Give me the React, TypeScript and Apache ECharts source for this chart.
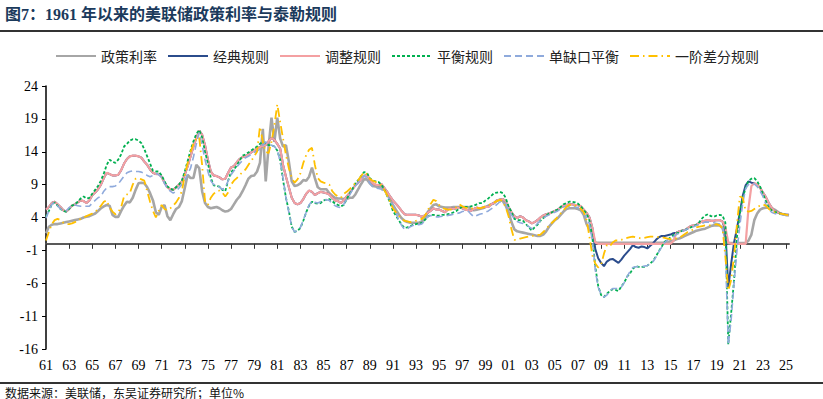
import React, { useEffect, useRef } from 'react';
import * as echarts from 'echarts';

// Quarterly categories, 1961Q1 .. 2025Q2 (258 points)
const categories: string[] = Array.from({ length: 258 }, (_, i) => `${1961 + Math.floor(i / 4)}Q${(i % 4) + 1}`);
const tickLabels = ['61','63','65','67','69','71','73','75','77','79','81','83','85','87','89','91','93','95','97','99','01','03','05','07','09','11','13','15','17','19','21','23','25'];
const yTickValues = [-16, -11, -6, -1, 4, 9, 14, 19, 24];

const policyRate = [
  1.6,2.6,2.9,3.0,3.0,3.1,3.2,3.3, 3.4,3.5,3.6,3.7,3.8,4.0,4.1,4.2,
  4.4,4.6,5.0,5.4,5.7,5.9,5.8,4.4, 4.1,4.1,5.0,5.8,6.4,6.3,7.0,8.2,
  9.2,9.3,9.2,8.6,7.7,6.6,4.8,4.4, 5.6,5.9,4.2,3.6,4.5,5.3,5.6,6.5,
  8.5,10.5,10.0,10.0,12.0,11.5,8.0,6.2, 5.6,5.4,5.5,5.6,5.4,5.1,4.9,5.0,
  5.3,6.0,6.7,7.2,8.0,8.9,9.9,10.3, 10.4,11.0,12.3,17.5,9.5,14.8,19.2,15.5,
  19.2,16.0,14.8,15.0,12.5,9.5,8.8,8.9, 9.2,9.7,9.6,10.2,11.6,10.0,8.6,8.3,
  8.3,8.3,7.7,7.3,7.0,6.9,6.9,6.8, 6.8,7.0,7.0,7.5,8.3,9.1,9.8,9.8,
  9.2,8.8,8.7,8.6,8.6,8.2,7.8,6.8, 5.9,5.2,4.5,3.9,3.5,3.3,3.2,3.2,
  3.2,3.2,3.4,3.8,4.8,5.4,5.9,6.0, 5.7,5.6,5.5,5.5,5.5,5.6,5.6,5.6,
  5.6,5.6,5.6,5.3,5.1,5.2,5.3,5.4, 5.6,5.8,6.0,6.2,6.6,6.7,6.5,5.8,
  4.8,3.3,2.2,1.9,1.8,1.7,1.6,1.5, 1.4,1.3,1.2,1.2,1.4,1.9,2.6,3.1,
  3.6,3.9,4.4,4.9,5.3,5.4,5.4,5.4, 5.3,5.1,4.4,3.0,2.2,1.5,0.2,0.15,
  0.15,0.15,0.15,0.15,0.15,0.15,0.15,0.15, 0.15,0.15,0.15,0.15,0.15,0.15,0.15,0.15,
  0.15,0.15,0.15,0.15,0.15,0.15,0.15,0.2, 0.4,0.5,0.7,0.8,1.0,1.2,1.4,1.6,
  1.8,2.0,2.1,2.2,2.3,2.5,2.7,2.8, 2.8,2.8,2.4,0.8,0.1,0.1,0.1,0.1,
  0.1,0.1,0.1,0.5,1.4,3.6,4.6,5.2, 5.4,5.5,5.5,5.4,5.2,4.9,4.6,4.5,
  4.4,4.3,
];

const adjustedRule = [
  5.2,5.6,6.2,6.4,6.0,5.6,5.1,4.9, 5.3,5.8,6.0,6.3,6.6,6.5,6.2,6.6,
  7.4,7.8,8.3,9.0,10.0,10.8,10.6,10.4, 10.4,10.5,11.2,12.2,12.9,13.3,13.4,13.4,
  13.3,13.1,12.5,12.0,11.3,10.8,10.6,10.6, 10.2,9.3,8.6,8.3,8.2,8.6,9.0,9.5,
  10.5,11.8,13.3,14.8,16.1,17.2,16.6,15.0, 12.8,11.0,10.4,10.3,10.1,9.8,9.9,10.8,
  11.6,11.8,12.4,12.9,13.2,13.3,13.6,13.9, 14.2,14.5,14.7,14.9,15.0,15.6,16.1,15.8,
  15.2,14.5,12.0,10.2,8.6,7.0,6.2,6.0, 6.2,6.8,7.6,8.1,7.9,7.4,7.7,7.9,
  7.8,7.7,7.5,7.0,6.6,6.5,6.2,6.6, 7.2,7.7,8.3,8.9,9.3,9.8,10.3,10.5,
  9.8,9.2,9.0,8.9,9.1,8.5,7.9,7.2, 6.6,6.1,5.6,5.0,4.5,4.4,4.4,4.4,
  4.4,4.3,4.1,4.3,4.7,5.0,5.4,5.2, 5.2,5.0,4.8,5.2,5.4,5.3,5.4,5.5,
  5.4,5.2,5.1,5.0,5.3,5.5,5.4,5.5, 5.6,5.6,6.0,6.2,6.6,6.7,6.8,6.5,
  5.6,4.8,4.2,3.9,4.2,4.0,3.6,3.4, 3.1,3.3,3.6,4.0,4.3,4.5,4.6,4.8,
  5.0,5.2,5.5,5.8,5.9,6.0,6.0,5.9, 5.9,5.7,5.2,4.7,4.0,2.4,0.2,0,
  0,0,0,0,0,0,0,0, 0,0,0,0,0,0,0,0,
  0,0,0,0,0,0,0,0, 0,0.4,1.6,1.9,2.0,2.1,2.4,2.7,
  2.8,2.9,3.2,3.4,3.5,3.6,3.5,3.5, 3.6,3.6,3.4,2.5,0.2,0,0,0,
  0,0,0,5.5,8.8,9.2,9.0,8.5, 7.8,7.1,6.2,5.5,5.0,4.8,4.6,4.5,
  4.4,4.4,
];

const classicRule = [
  5.2,5.6,6.2,6.4,6.0,5.6,5.1,4.9, 5.3,5.8,6.0,6.3,6.6,6.5,6.2,6.6,
  7.4,7.8,8.3,9.0,10.0,10.8,10.6,10.4, 10.4,10.5,11.2,12.2,12.9,13.3,13.4,13.4,
  13.3,13.1,12.5,12.0,11.3,10.8,10.6,10.6, 10.2,9.3,8.6,8.3,8.2,8.6,9.0,9.5,
  10.5,11.8,13.3,14.8,16.1,17.2,16.6,15.0, 12.8,11.0,10.4,10.3,10.1,9.8,9.9,10.8,
  11.6,11.8,12.4,12.9,13.2,13.3,13.6,13.9, 14.2,14.5,14.7,14.9,15.0,15.6,16.1,15.8,
  15.2,14.5,12.0,10.2,8.6,7.0,6.2,6.0, 6.2,6.8,7.6,8.1,7.9,7.4,7.7,7.9,
  7.8,7.7,7.5,7.0,6.6,6.5,6.2,6.6, 7.2,7.7,8.3,8.9,9.3,9.8,10.3,10.5,
  9.8,9.2,9.0,8.9,9.1,8.5,7.9,7.2, 6.6,6.1,5.6,5.0,4.5,4.4,4.4,4.4,
  4.4,4.3,4.1,4.3,4.7,5.0,5.4,5.2, 5.2,5.0,4.8,5.2,5.4,5.3,5.4,5.5,
  5.4,5.2,5.1,5.0,5.3,5.5,5.4,5.5, 5.6,5.6,6.0,6.2,6.6,6.7,6.8,6.5,
  5.6,4.8,4.2,3.9,4.2,4.0,3.6,3.4, 3.1,3.3,3.6,4.0,4.3,4.5,4.6,4.8,
  5.0,5.2,5.5,5.8,5.9,6.0,6.0,5.9, 5.9,5.7,5.2,4.7,4.0,2.4,-0.8,-2.2,
  -2.9,-3.4,-2.7,-2.4,-2.3,-2.6,-2.9,-2.4, -1.8,-1.3,-0.8,-0.2,-0.5,-0.6,-0.4,-0.5,
  -0.7,-0.3,0.1,0.6,1.0,1.2,1.2,1.3, 1.4,1.6,1.7,1.9,2.0,2.1,2.4,2.7,
  2.8,2.9,3.2,3.4,3.5,3.6,3.5,3.5, 3.6,3.6,3.4,2.0,-6.7,-3.0,0.2,2.3,
  4.8,7.3,8.9,9.5,9.3,9.2,9.0,8.5, 7.8,7.1,6.2,5.5,5.0,4.8,4.6,4.5,
  4.4,4.4,
];

const balancedRule = [
  4.1,5.0,6.0,6.3,5.8,5.3,5.0,4.9, 5.3,5.8,6.0,6.4,6.9,7.2,6.9,7.0,
  7.6,8.2,8.8,9.6,10.7,12.0,12.8,12.5, 12.3,12.8,13.6,14.8,15.2,15.7,15.9,15.9,
  15.7,15.3,14.4,13.3,12.2,11.1,11.0,11.0, 10.4,9.5,8.7,8.4,8.2,8.6,9.0,9.6,
  11.0,12.6,14.2,15.6,16.7,17.3,16.2,14.0, 12.3,10.0,8.9,8.8,8.7,8.2,8.0,9.6,
  10.9,11.3,11.9,12.7,13.4,13.6,13.9,14.2, 14.5,14.8,15.2,15.5,15.2,15.0,15.0,14.8,
  14.2,12.8,9.7,7.0,5.0,2.6,1.8,2.0, 2.4,3.5,4.8,5.8,6.4,6.2,6.1,6.2,
  6.6,6.7,6.8,6.5,6.1,5.9,5.7,5.9, 6.8,7.6,8.3,9.2,9.7,10.3,10.9,10.8,
  10.0,9.6,9.5,9.4,9.0,8.3,7.3,6.3, 5.0,4.3,3.6,2.9,2.4,2.5,2.7,2.9,
  3.0,3.1,3.2,3.6,4.1,4.4,4.4,4.3, 4.3,4.4,4.4,4.5,4.6,4.8,5.0,5.4,
  5.6,5.6,5.6,5.7,5.8,6.0,6.2,6.2, 6.6,6.9,7.3,7.7,7.8,7.9,7.7,7.0,
  5.6,4.9,3.8,3.6,3.6,3.5,3.0,2.5, 2.0,2.5,2.9,3.5,3.9,4.3,4.6,4.8,
  5.0,5.2,5.6,6.0,6.2,6.4,6.4,6.3, 6.1,5.7,5.1,4.6,3.5,1.0,-3.5,-6.4,
  -7.8,-8.1,-7.6,-7.2,-6.9,-7.0,-7.2,-6.5, -5.9,-5.0,-4.5,-3.8,-3.4,-3.5,-3.5,-3.5,
  -3.3,-3.0,-2.6,-1.9,-1.1,-0.4,0.3,0.6, 1.0,1.3,1.6,1.7,2.0,2.1,2.3,2.5,
  2.7,2.9,3.3,3.9,4.3,4.5,4.2,4.1, 4.3,4.4,4.3,3.2,-15.3,-10.5,-5.5,1.0,
  4.5,7.0,8.5,9.6,9.9,10.0,9.5,8.7, 7.6,6.5,5.5,5.1,4.9,4.7,4.6,4.5,
  4.4,4.4,
];

const singleGapRule = [
  3.9,5.0,6.0,6.3,5.8,5.3,5.0,5.0, 5.5,5.8,5.9,5.8,5.7,5.7,5.7,5.7,
  6.2,6.6,7.0,7.2,8.0,8.5,8.7,8.7, 8.8,9.1,9.7,10.3,10.8,11.0,11.1,11.0,
  11.0,10.9,10.7,10.4,10.2,10.4,10.7,10.5, 10.1,9.2,8.4,8.0,7.7,8.0,8.5,9.0,
  9.6,10.6,11.5,13.2,15.2,16.9,15.0,12.8, 11.0,9.6,9.0,9.0,8.6,8.3,8.5,9.6,
  10.5,11.1,11.7,12.2,12.7,13.1,13.3,13.6, 13.9,14.1,14.4,15.0,15.5,15.2,15.0,14.8,
  14.3,12.5,10.0,7.0,4.8,2.6,1.8,2.0, 2.5,3.6,4.8,5.9,6.5,6.3,6.2,6.4,
  6.6,6.7,6.6,6.1,5.8,5.6,5.5,6.0, 6.8,7.4,8.2,8.8,9.3,9.8,10.4,10.0,
  9.2,8.7,8.5,8.4,8.3,7.8,7.4,6.5, 5.9,4.8,3.6,2.8,2.2,2.3,2.6,2.8,
  2.9,2.9,3.0,3.5,4.1,4.3,4.2,4.1, 4.1,4.2,4.2,4.3,4.4,4.5,4.6,4.7,
  4.9,5.0,5.0,4.5,4.1,4.3,4.5,4.6, 4.8,5.0,5.3,5.6,6.0,6.4,6.3,6.1,
  5.2,4.4,3.8,3.4,3.2,3.1,2.9,2.6, 2.3,2.6,3.1,3.5,3.9,4.2,4.4,4.6,
  4.8,5.0,5.3,5.6,5.7,5.7,5.7,5.6, 5.5,5.1,4.6,4.0,3.0,0.5,-4.0,-6.6,
  -7.7,-8.1,-7.8,-7.2,-6.8,-6.8,-6.8,-6.6, -5.9,-5.0,-4.2,-3.6,-3.5,-3.5,-3.5,-3.4,
  -3.3,-3.0,-2.7,-2.0,-1.2,-0.5,0.2,0.6, 0.9,1.1,1.4,1.6,1.9,2.1,2.3,2.5,
  2.6,2.8,2.9,3.1,3.3,3.3,3.3,3.2, 3.1,3.0,2.8,-1.0,-15.4,-11.5,-6.0,-1.0,
  2.8,6.2,8.4,9.0,9.2,9.1,8.7,8.0, 7.2,6.0,5.2,4.8,4.6,4.5,4.5,4.4,
  4.3,4.3,
];

const firstDiffRule = [
  0.5,1.8,3.0,3.6,3.8,3.6,3.2,3.0, 3.0,3.1,3.3,3.5,3.8,4.0,4.2,4.4,
  4.6,4.9,5.2,5.8,6.4,6.6,5.5,4.9, 4.5,4.8,5.6,7.2,7.5,7.7,9.0,9.9,
  10.0,9.8,9.6,8.0,6.4,5.0,4.0,5.0, 5.9,5.3,5.1,5.4,5.8,6.3,7.0,8.0,
  10.5,12.3,14.0,15.2,16.0,16.2,12.0,6.5, 5.9,7.0,7.6,8.0,8.1,7.8,7.2,7.8,
  9.0,9.6,10.0,10.5,10.9,11.3,12.0,12.6, 13.3,14.0,17.8,15.6,14.0,13.8,15.5,18.0,
  21.2,18.5,16.0,13.5,11.5,10.0,9.3,9.8, 10.7,12.3,13.5,14.3,14.6,12.0,10.0,9.5,
  9.3,9.2,9.0,8.0,7.5,7.2,7.0,7.6, 7.9,8.3,8.8,9.2,9.7,10.3,10.9,10.6,
  9.9,9.6,9.4,9.2,8.9,8.2,7.4,6.4, 5.4,4.8,4.3,3.8,3.5,3.4,3.3,3.4,
  3.5,3.6,3.8,4.2,5.0,6.0,6.7,6.5, 5.9,5.5,5.3,5.2,5.2,5.3,5.6,6.0,
  5.7,5.5,5.4,5.3,5.5,5.5,5.4,5.5, 5.7,5.8,6.1,6.3,6.5,6.7,6.4,5.6,
  4.2,2.2,0.6,0.6,0.8,0.9,1.0,1.1, 1.2,1.2,1.3,1.4,1.8,2.2,2.8,3.2,
  3.6,4.1,4.6,5.1,5.6,5.9,5.9,5.8, 5.7,5.3,4.8,3.6,1.0,-1.8,-3.0,-3.6,
  -3.2,-1.5,-0.2,-0.4,0.2,0.5,0.5,0.6, 0.8,0.9,1.0,1.1,1.0,0.9,0.8,0.9,
  1.0,1.1,1.1,1.1,1.0,1.0,0.9,0.8, 0.7,0.7,0.8,0.9,1.2,1.5,1.8,2.0,
  2.2,2.5,2.6,2.7,2.8,2.8,2.8,2.9, 3.0,2.8,2.4,-2.0,-7.1,-5.5,-1.8,3.0,
  7.2,7.0,5.0,4.9,5.0,5.3,5.6,5.8, 6.0,5.8,5.3,5.0,4.8,4.7,4.6,4.5,
  4.4,4.4,
];

const seriesNames = ['政策利率', '经典规则', '调整规则', '平衡规则', '单缺口平衡', '一阶差分规则'];

const serifFam = '"Liberation Serif", "Times New Roman"';
const cjkFam = '"Noto Sans CJK SC"';

function buildOption() {
  const mk = (name: string, data: number[], color: string, width: number, type: any) => ({
    name,
    type: 'line',
    data,
    xAxisIndex: 0,
    yAxisIndex: 0,
    symbol: 'none',
    showSymbol: false,
    smooth: false,
    silent: true,
    lineStyle: { color, width, type },
    itemStyle: { color },
  });
  return {
    animation: false,
    backgroundColor: '#ffffff',
    legend: {
      top: 44,
      left: 50,
      itemWidth: 40,
      itemHeight: 12,
      itemGap: 10,
      data: seriesNames,
      itemStyle: { opacity: 0 },
      textStyle: { fontFamily: cjkFam, fontSize: 14, color: '#222' },
    },
    grid: { left: 46, top: 86, width: 743, height: 263, containLabel: false },
    xAxis: [
      {
        type: 'category',
        data: categories,
        boundaryGap: false,
        position: 'bottom',
        axisLine: { show: true, onZero: true, onZeroAxisIndex: 0, lineStyle: { color: '#595959', width: 2 } },
        axisTick: { show: true, interval: 7, length: 5, inside: false, lineStyle: { color: '#333', width: 1 } },
        axisLabel: { show: false },
        splitLine: { show: false },
      },
      {
        type: 'category',
        data: categories,
        boundaryGap: false,
        position: 'bottom',
        axisLine: { show: false, onZero: false },
        axisTick: { show: false },
        splitLine: { show: false },
        axisLabel: {
          interval: 7,
          margin: 9,
          fontFamily: serifFam,
          fontSize: 14,
          color: '#000',
          formatter: (_v: string, idx: number) => (idx % 8 === 0 ? tickLabels[idx / 8] ?? '' : ''),
        },
      },
    ],
    yAxis: [
      { type: 'value', min: yTickValues[0], max: yTickValues[yTickValues.length - 1], show: false },
      {
        type: 'value',
        min: 0,
        max: yTickValues[yTickValues.length - 1] - yTickValues[0],
        interval: 5,
        position: 'left',
        axisLine: { show: true, onZero: false, lineStyle: { color: '#000', width: 1.5 } },
        axisTick: { show: true, length: 4, lineStyle: { color: '#000' } },
        splitLine: { show: false },
        axisLabel: {
          margin: 8,
          fontFamily: serifFam,
          fontSize: 14,
          color: '#000',
          formatter: (v: number) => String(v + yTickValues[0]),
        },
      },
    ],
    series: [
      mk(seriesNames[0], policyRate, '#A6A6A6', 2.6, 'solid'),
      mk(seriesNames[1], classicRule, '#2B4C8C', 2, 'solid'),
      mk(seriesNames[2], adjustedRule, '#F4A0A2', 2.2, 'solid'),
      mk(seriesNames[3], balancedRule, '#00B050', 1.8, [3, 2]),
      mk(seriesNames[4], singleGapRule, '#8FAADC', 1.6, [7, 4]),
      mk(seriesNames[5], firstDiffRule, '#FFC000', 1.8, [9, 4, 1.5, 4]),
    ],
    graphic: [
      {
        type: 'text',
        left: 5,
        top: 6,
        style: {
          text: '图7：1961 年以来的美联储政策利率与泰勒规则',
          font: `bold 16px ${serifFam}, ${cjkFam}`,
          fill: '#1B3A5C',
        },
      },
      { type: 'line', shape: { x1: 0, y1: 31, x2: 823, y2: 31 }, style: { stroke: '#333', lineWidth: 2 } },
      { type: 'line', shape: { x1: 0, y1: 383, x2: 823, y2: 383 }, style: { stroke: '#333', lineWidth: 2 } },
      {
        type: 'text',
        left: 5,
        top: 386,
        style: {
          text: '数据来源：美联储，东吴证券研究所；单位%',
          font: `12px ${cjkFam}`,
          lineHeight: 12,
          fill: '#111',
        },
      },
    ],
  };
}

export default function App() {
  const ref = useRef<HTMLDivElement>(null);
  useEffect(() => {
    if (!ref.current) return;
    const chart = echarts.init(ref.current, null, { renderer: 'svg' });
    chart.setOption(buildOption() as any);
    return () => chart.dispose();
  }, []);
  return (
    <div
      ref={ref}
      style={{ position: 'absolute', left: 0, top: 0, width: 823, height: 399, background: '#fff' }}
    />
  );
}
